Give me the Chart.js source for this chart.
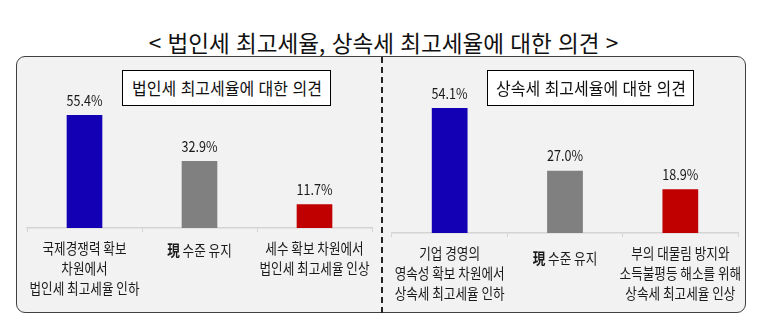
<!DOCTYPE html>
<html lang="ko">
<head>
<meta charset="utf-8">
<script src="https://cdn.jsdelivr.net/npm/chart.js@4/dist/chart.umd.min.js"></script>
<style>
  body { margin: 0; background: #fff; font-family: "Noto Sans CJK KR", sans-serif; }
  #wrap { position: relative; width: 767px; height: 334px; overflow: hidden; }
  .title {
    position: absolute; left: 0; top: 27px; width: 767px; text-align: center;
    font-size: 23px; line-height: 30px; color: #111; font-weight: 400;
    transform: scaleX(0.98); transform-origin: 385px 0;
  }
  .panel {
    position: absolute; left: 16px; top: 56px; width: 728px; height: 255px;
    background: #f2f2f2; border: 1.5px solid #404040; border-radius: 9px;
  }
  .divider {
    position: absolute; left: 381px; top: 57px; height: 256px; width: 0;
    border-left: 2px dashed #222;
  }
  .sub {
    position: absolute; top: 70px; height: 34px; background: #fff;
    border: 1.5px solid #000; text-align: center;
    font-size: 17px; line-height: 34px; color: #111;
  }
  .sub span { display: inline-block; transform: scaleX(0.94); }
  canvas { position: absolute; }
</style>
</head>
<body>
<div id="wrap">
  <div class="title">&lt; 법인세 최고세율, 상속세 최고세율에 대한 의견 &gt;</div>
  <div class="panel"></div>
  <div class="divider"></div>
  <div style="position:absolute;left:17px;top:57px;width:366px;height:256px"><canvas id="corp"></canvas></div>
  <div style="position:absolute;left:383px;top:57px;width:366px;height:256px"><canvas id="inh"></canvas></div>
  <div class="sub" style="left:122px;width:207px"><span>법인세 최고세율에 대한 의견</span></div>
  <div class="sub" style="left:487px;width:205px"><span>상속세 최고세율에 대한 의견</span></div>
</div>
<script>
const corpLabels = [
  ["국제경쟁력 확보", "차원에서", "법인세 최고세율 인하"],
  ["現 수준 유지"],
  ["세수 확보 차원에서", "법인세 최고세율 인상"]
]
const corpValues = [55.4, 32.9, 11.7]

const inhLabels = [
  ["기업 경영의", "영속성 확보 차원에서", "상속세 최고세율 인하"],
  ["現 수준 유지"],
  ["부의 대물림 방지와", "소득불평등 해소를 위해", "상속세 최고세율 인상"]
]
const inhValues = [54.1, 27.0, 18.9]

const barColors = ["#1400b4", "#808080", "#c00000"]

const FONT = '"Noto Sans CJK KR", sans-serif'
const SQUEEZE = 0.84

// text drawn narrower than the font, centred on x
function condensed(ctx, parts, x, y) {
  let total = 0
  parts.forEach(p => { ctx.font = p.font; total += ctx.measureText(p.text).width })
  ctx.save()
  ctx.translate(x, y)
  ctx.scale(SQUEEZE, 1)
  let cx = -total / 2
  ctx.textAlign = "left"
  ctx.textBaseline = "middle"
  parts.forEach(p => {
    ctx.font = p.font
    ctx.fillText(p.text, cx, 0)
    cx += ctx.measureText(p.text).width
  })
  ctx.restore()
}

const labelsPlugin = {
  id: "labels",
  afterDatasetsDraw(chart, args, opts) {
    const ctx = chart.ctx
    const xs = chart.scales.x
    const bottom = chart.chartArea.bottom
    ctx.fillStyle = "#1a1a1a"

    // value above each bar
    chart.getDatasetMeta(0).data.forEach((bar, i) => {
      const v = chart.data.datasets[0].data[i]
      condensed(ctx, [{ text: v.toFixed(1) + "%", font: "15px " + FONT }], bar.x, bar.y - 15)
    })

    // category text under the axis
    opts.lines.forEach((lines, i) => {
      const x = xs.getPixelForTick(i)
      if (lines.length === 1) {
        const txt = lines[0]
        condensed(ctx, [
          { text: txt.slice(0, 1), font: "bold 15px " + FONT },
          { text: txt.slice(1), font: "15px " + FONT }
        ], x, bottom + opts.first + opts.single)
        return
      }
      lines.forEach((ln, k) => {
        condensed(ctx, [{ text: ln, font: "15px " + FONT }], x, bottom + opts.first + k * 20)
      })
    })
  }
}

function makeChart(id, labels, values, yMax, pad, axisH, single) {
  return new Chart(document.getElementById(id), {
    type: "bar",
    data: {
      labels: labels.map(l => l.join(" ")),
      datasets: [{
        data: values,
        backgroundColor: barColors,
        borderWidth: 0,
        categoryPercentage: 1,
        barPercentage: 0.31
      }]
    },
    options: {
      responsive: true,
      maintainAspectRatio: false,
      animation: false,
      events: [],
      layout: { padding: pad },
      plugins: {
        legend: { display: false },
        tooltip: { enabled: false },
        labels: { lines: labels, first: 20, single: single }
      },
      scales: {
        x: {
          grid:   { drawOnChartArea: false, drawTicks: true, tickLength: 4, color: "#d4d4d4" },
          border: { color: "#d4d4d4", width: 1.5 },
          ticks:  { display: false },
          afterFit: s => { s.height = axisH }
        },
        y: { display: false, min: 0, max: yMax }
      }
    },
    plugins: [labelsPlugin]
  })
}

makeChart("corp", corpLabels, corpValues, 171 / 2.04,
  { left: 10, right: 11, top: 0, bottom: 5 }, 80, 2)
makeChart("inh", inhLabels, inhValues, 176 / 2.31,
  { left: 9, right: 11, top: 0, bottom: 4 }, 76, 5)
</script>
</body>
</html>
